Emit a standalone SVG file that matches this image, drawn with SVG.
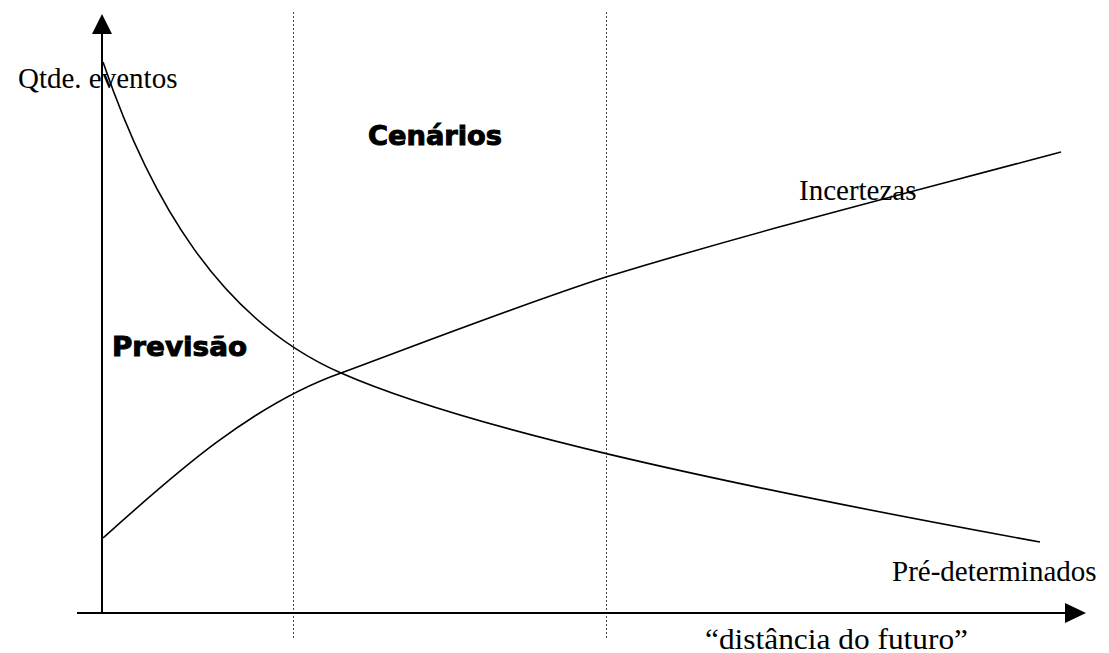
<svg xmlns="http://www.w3.org/2000/svg" width="1109" height="653" viewBox="0 0 1109 653">
<style>
.t{font-family:"Liberation Serif","Times New Roman",serif;font-size:29px;fill:#000}
.b{font-family:"DejaVu Sans","Liberation Sans",Arial,sans-serif;font-weight:bold;font-size:27px;fill:#000;stroke:#000;stroke-width:1}
.ax{stroke:#000;stroke-width:2;fill:none}
.cv{stroke:#000;stroke-width:1.6;fill:none}
.dot{stroke:#444;stroke-width:1;stroke-dasharray:2,2;fill:none}
</style>
<rect width="1109" height="653" fill="#fff"/>
<g id="connectors">
<line class="dot" x1="293.5" y1="12" x2="293.5" y2="638"/>
<line class="dot" x1="606.5" y1="12" x2="606.5" y2="638"/>
<line class="ax" x1="102" y1="613" x2="102" y2="32"/>
<polygon points="102,14 92,34 112,34" fill="#000"/>
<line class="ax" x1="77" y1="613" x2="1067" y2="613"/>
<polygon points="1086,613 1065,603 1065,623" fill="#000"/>
<path id="pre" class="cv" d="M103,62 C150,200 220,320 341,373 S700,480 1040,542"/>
<path id="inc" class="cv" d="M103,538 C170,478 250,405 341,373 C430,340 520,305 606,277 C760,230 900,195 1061,152"/>
</g>
<g id="label-qtde"><text class="t" x="18" y="88">Qtde. eventos</text></g>
<g id="label-cenarios"><text class="b" x="368" y="145" textLength="134" lengthAdjust="spacingAndGlyphs">Cenários</text></g>
<g id="label-previsao"><text class="b" x="112" y="356" textLength="135" lengthAdjust="spacingAndGlyphs">Previsão</text></g>
<g id="label-incertezas"><text class="t" x="799" y="200">Incertezas</text></g>
<g id="label-pre"><text class="t" x="892" y="581">Pré-determinados</text></g>
<g id="label-distancia"><text class="t" x="705" y="649" textLength="263" lengthAdjust="spacingAndGlyphs">“distância do futuro”</text></g>
</svg>
